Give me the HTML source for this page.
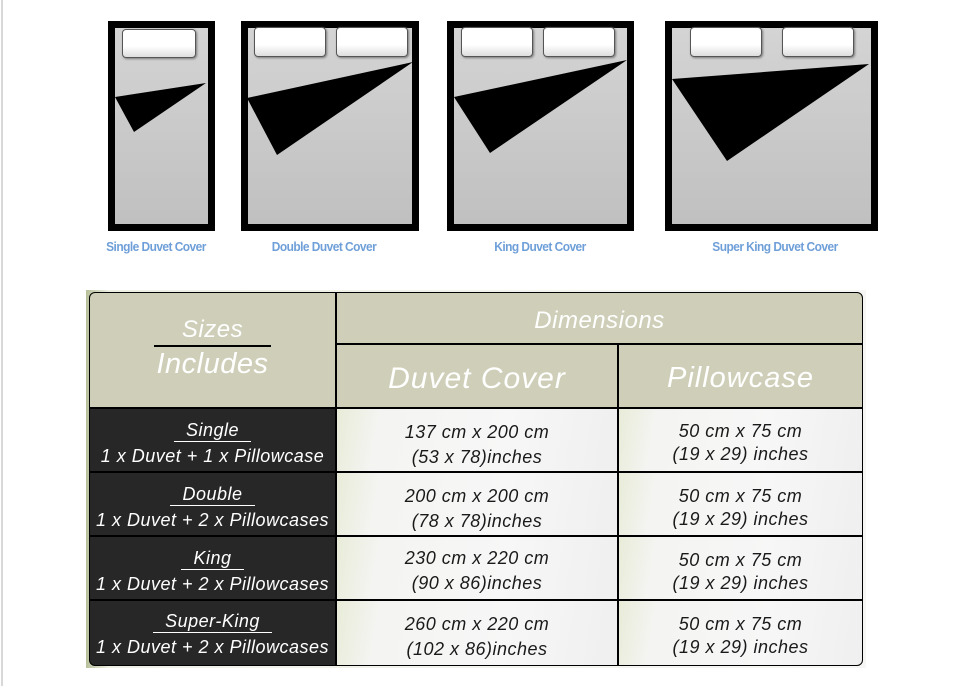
<!DOCTYPE html>
<html><head><meta charset="utf-8"><style>
body{margin:0;width:960px;height:686px;background:#fff;position:relative;overflow:hidden;font-family:"Liberation Sans",sans-serif}
.a{position:absolute}
.bed{position:absolute;background:#000}
.bed .in{position:absolute;left:7px;top:7px;right:7px;bottom:7px;background:linear-gradient(#d4d4d4,#c0c0c0)}
.pil{position:absolute;background:linear-gradient(#fff 60%,#ddd);border:1px solid #555;border-radius:4px;box-shadow:1px 1px 2px #777}
.lbl{position:absolute;top:239px;color:#6f9fd8;font-weight:bold;font-size:13px;letter-spacing:-0.6px;text-align:center;transform:scaleX(.92)}
.cell{position:absolute;display:flex;flex-direction:column;align-items:center;justify-content:center;font-style:italic;text-align:center;font-size:18px;line-height:25px;letter-spacing:.5px;box-sizing:border-box}
.dark{background:#272727;color:#fff;padding-top:8px}
.lite{background:linear-gradient(100deg,#e8ecd8 0%,#f4f4f2 15%,#f7f7f7 60%,#efefef);color:#1a1a1a;padding-top:9px}
.hd{background:#cfcfb9;color:#fff}
.u{border-bottom:1.5px solid #fff;padding:0 12px;line-height:22px;margin-bottom:2px}
</style></head><body>
<div class="a" style="left:1px;top:0;width:2px;height:686px;background:#d8d8d8"></div>
<div class="bed" style="left:108px;top:21px;width:107px;height:210px"><div class="in"></div></div>
<div class="pil" style="left:122px;top:29px;width:72px;height:27px"></div>
<div class="bed" style="left:241px;top:21px;width:178px;height:210px"><div class="in"></div></div>
<div class="pil" style="left:254px;top:27px;width:70px;height:28px"></div>
<div class="pil" style="left:336px;top:27px;width:70px;height:28px"></div>
<div class="bed" style="left:447px;top:21px;width:187px;height:210px"><div class="in"></div></div>
<div class="pil" style="left:461px;top:27px;width:70px;height:28px"></div>
<div class="pil" style="left:543px;top:27px;width:70px;height:28px"></div>
<div class="bed" style="left:665px;top:21px;width:213px;height:210px"><div class="in"></div></div>
<div class="pil" style="left:690px;top:27px;width:70px;height:28px"></div>
<div class="pil" style="left:782px;top:27px;width:70px;height:28px"></div>
<svg class="a" style="left:0;top:0" width="960" height="260">
<polygon points="115,97 206,83 134,132" fill="#000"/>
<polygon points="247,98 413,62 277,155" fill="#000"/>
<polygon points="454,97 627,60 490,153" fill="#000"/>
<polygon points="672,79 869,64 727,161" fill="#000"/>
</svg>
<div class="lbl" style="left:95px;width:122px">Single Duvet Cover</div>
<div class="lbl" style="left:254px;width:140px">Double Duvet Cover</div>
<div class="lbl" style="left:470px;width:140px">King Duvet Cover</div>
<div class="lbl" style="left:685px;width:180px">Super King Duvet Cover</div>

<div class="a" style="left:86px;top:290px;width:780px;height:378px;background:linear-gradient(90deg,#b7c09a,#eef0e6 3%,#f6f6f4)"></div>
<div class="a" style="left:89px;top:292px;width:772px;height:372px;background:#000;border:1.5px solid #000;border-radius:6px;overflow:hidden">
<div class="cell hd" style="left:0;top:0;width:245px;height:114px;font-size:24px;line-height:30px"><div style="border-bottom:2px solid #000;padding:0 28px;margin-top:-4px">Sizes</div><div style="font-size:29px;line-height:34px">Includes</div></div>
<div class="cell hd" style="left:247px;top:0;width:525px;height:50px;font-size:24px;padding-top:4px">Dimensions</div>
<div class="cell hd" style="left:247px;top:52px;width:280px;height:62px;font-size:30px;letter-spacing:1px;padding-top:4px">Duvet Cover</div>
<div class="cell hd" style="left:529px;top:52px;width:243px;height:62px;font-size:29px;letter-spacing:1px;padding-top:4px">Pillowcase</div>

<div class="cell dark" style="left:0;top:116px;width:245px;height:62px"><div class="u">Single</div><div>1 x Duvet + 1 x Pillowcase</div></div>
<div class="cell lite" style="left:247px;top:116px;width:280px;height:62px">137 cm x 200 cm<br>(53 x 78)inches</div>
<div class="cell lite" style="left:529px;top:116px;width:243px;height:62px;line-height:23px;padding-top:6px">50 cm x 75 cm<br>(19 x 29) inches</div>

<div class="cell dark" style="left:0;top:180px;width:245px;height:62px"><div class="u">Double</div><div>1 x Duvet + 2 x Pillowcases</div></div>
<div class="cell lite" style="left:247px;top:180px;width:280px;height:62px">200 cm x 200 cm<br>(78 x 78)inches</div>
<div class="cell lite" style="left:529px;top:180px;width:243px;height:62px;line-height:23px;padding-top:8px">50 cm x 75 cm<br>(19 x 29) inches</div>

<div class="cell dark" style="left:0;top:244px;width:245px;height:62px"><div class="u">King</div><div>1 x Duvet + 2 x Pillowcases</div></div>
<div class="cell lite" style="left:247px;top:244px;width:280px;height:62px;padding-top:6px">230 cm x 220 cm<br>(90 x 86)inches</div>
<div class="cell lite" style="left:529px;top:244px;width:243px;height:62px;line-height:23px;padding-top:8px">50 cm x 75 cm<br>(19 x 29) inches</div>

<div class="cell dark" style="left:0;top:308px;width:245px;height:64px;padding-top:4px"><div class="u">Super-King</div><div>1 x Duvet + 2 x Pillowcases</div></div>
<div class="cell lite" style="left:247px;top:308px;width:280px;height:64px;padding-top:8px">260 cm x 220 cm<br>(102 x 86)inches</div>
<div class="cell lite" style="left:529px;top:308px;width:243px;height:64px;line-height:23px;padding-top:6px">50 cm x 75 cm<br>(19 x 29) inches</div>
</div>
</body></html>
